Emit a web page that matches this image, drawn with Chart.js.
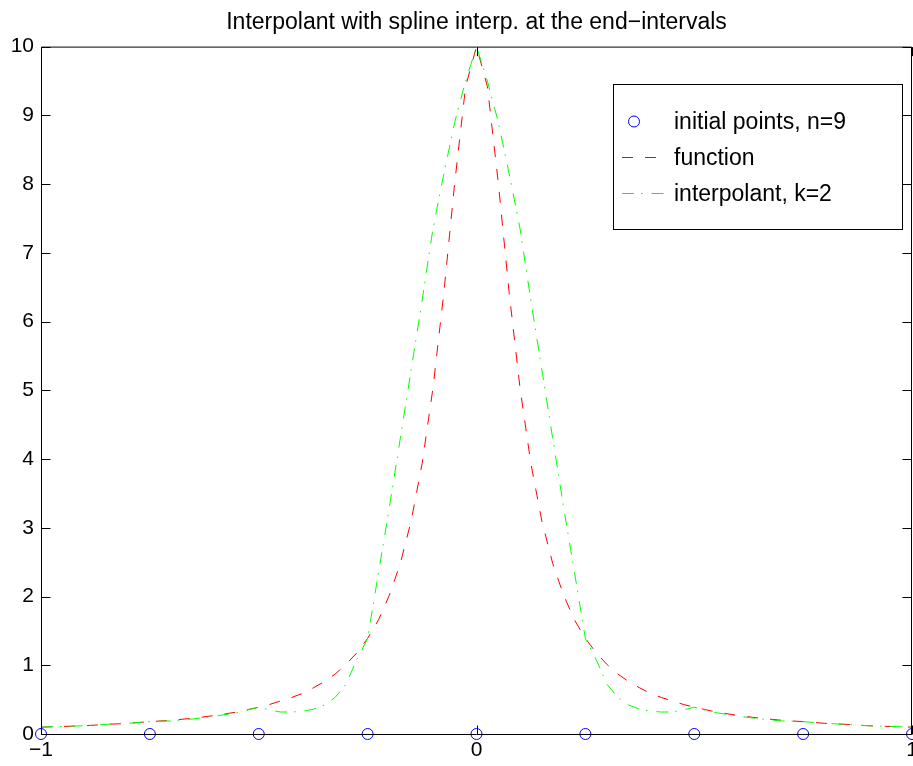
<!DOCTYPE html>
<html>
<head>
<meta charset="utf-8">
<title>Interpolant with spline interp. at the end−intervals</title>
<script src="https://cdn.jsdelivr.net/npm/chart.js@4.4.1/dist/chart.umd.min.js"></script>
<style>
  html, body { margin: 0; padding: 0; background: #fff; }
  #wrap { width: 913px; height: 766px; }
</style>
</head>
<body>
<div id="wrap"><canvas id="interpChart" width="913" height="766"></canvas></div>
<script>
// ============================================
// data
// ============================================

// interpolation nodes (drawn on the x axis)
const NODE_X = [-1, -0.75, -0.5, -0.25, 0, 0.25, 0.5, 0.75, 1];
const NODE_Y = [0, 0, 0, 0, 0, 0, 0, 0, 0];

// x positions where the two curves were read
const CURVE_X = [
  -1, -0.95, -0.9, -0.85, -0.8, -0.75, -0.7, -0.65, -0.6, -0.55,
  -0.5, -0.475, -0.45, -0.425, -0.4, -0.375, -0.35, -0.325, -0.3, -0.275,
  -0.25, -0.225, -0.2, -0.175, -0.15, -0.125, -0.1, -0.075, -0.05, -0.025,
  0,
  0.025, 0.05, 0.075, 0.1, 0.125, 0.15, 0.175, 0.2, 0.225, 0.25,
  0.275, 0.3, 0.325, 0.35, 0.375, 0.4, 0.425, 0.45, 0.475, 0.5,
  0.55, 0.6, 0.65, 0.7, 0.75, 0.8, 0.85, 0.9, 0.95, 1
];

// red dashed "function"
const FUNCTION_Y = [
  0.10, 0.11, 0.12, 0.14, 0.155, 0.18, 0.20, 0.23, 0.27, 0.32,
  0.39, 0.43, 0.48, 0.53, 0.59, 0.67, 0.76, 0.87, 1.01, 1.18,
  1.39, 1.66, 2.02, 2.48, 3.10, 3.93, 5.03, 6.42, 8.02, 9.42,
  10,
  9.42, 8.02, 6.42, 5.03, 3.93, 3.10, 2.48, 2.02, 1.66, 1.39,
  1.18, 1.01, 0.87, 0.76, 0.67, 0.59, 0.53, 0.48, 0.43, 0.39,
  0.32, 0.27, 0.23, 0.20, 0.18, 0.155, 0.14, 0.12, 0.11, 0.10
];

// green dash-dot "interpolant, k=2"
const INTERP_Y = [
  0.10, 0.11, 0.12, 0.14, 0.155, 0.18, 0.19, 0.22, 0.26, 0.31,
  0.39, 0.35, 0.32, 0.32, 0.33, 0.36, 0.42, 0.53, 0.72, 1.08,
  1.39, 2.35, 3.30, 4.30, 5.30, 6.30, 7.35, 8.15, 8.90, 9.50,
  10,
  9.50, 8.90, 8.15, 7.35, 6.30, 5.30, 4.30, 3.30, 2.35, 1.39,
  1.08, 0.72, 0.53, 0.42, 0.36, 0.33, 0.32, 0.32, 0.35, 0.39,
  0.31, 0.26, 0.22, 0.19, 0.18, 0.155, 0.14, 0.12, 0.11, 0.10
];

const X_TICKS = [-1, 0, 1];
const Y_TICKS = [0, 1, 2, 3, 4, 5, 6, 7, 8, 9, 10];

const LABELS = ['initial points, n=9', 'function', 'interpolant, k=2'];

const FONT = '"Liberation Sans", Arial, Helvetica, sans-serif';
Chart.defaults.font.family = FONT;
Chart.defaults.color = '#000';

const fmt = v => (v < 0 ? '\u2212' + Math.abs(v) : String(v));
const pairs = (xs, ys) => xs.map((x, i) => ({ x, y: ys[i] }));

// ============================================
// box + inward ticks, MATLAB style
// ============================================
const matlabFrame = {
  id: 'matlabFrame',
  afterDatasetsDraw(chart) {
    const { ctx, chartArea: a, scales: { x, y } } = chart;
    const L = a.left + 0.5, R = a.right - 0.5, T = a.top + 0.5, B = a.bottom + 0.5;
    const tl = 9;
    ctx.save();
    ctx.strokeStyle = '#000';
    ctx.lineWidth = 1;
    ctx.beginPath();
    ctx.rect(L, T, R - L, B - T);
    x.ticks.forEach(t => {
      const px = Math.round(x.getPixelForValue(t.value)) + 0.5;
      ctx.moveTo(px, B); ctx.lineTo(px, B - tl);
      ctx.moveTo(px, T); ctx.lineTo(px, T + tl);
    });
    y.ticks.forEach(t => {
      const py = Math.round(y.getPixelForValue(t.value)) + 0.5;
      ctx.moveTo(L, py); ctx.lineTo(L + tl, py);
      ctx.moveTo(R, py); ctx.lineTo(R - tl, py);
    });
    ctx.stroke();
    ctx.restore();
  }
};

// ============================================
// boxed legend in the upper right corner
// ============================================
const boxedLegend = {
  id: 'boxedLegend',
  afterDraw(chart) {
    const ctx = chart.ctx;
    const bx = 613.5, by = 84.5, bw = 289, bh = 145;
    const rows = [121.5, 157.5, 193.5];
    ctx.save();
    ctx.fillStyle = '#fff';
    ctx.fillRect(bx, by, bw, bh);
    ctx.strokeStyle = '#000';
    ctx.lineWidth = 1;
    ctx.strokeRect(bx, by, bw, bh);

    chart.data.datasets.forEach((ds, i) => {
      const ry = rows[i];
      ctx.save();
      ctx.strokeStyle = ds.borderColor;
      ctx.lineWidth = 1;
      if (i === 0) {
        ctx.beginPath();
        ctx.arc(634, ry, ds.pointRadius, 0, Math.PI * 2);
        ctx.stroke();
      } else {
        ctx.setLineDash(ds.borderDash);
        ctx.beginPath();
        ctx.moveTo(622, ry);
        ctx.lineTo(i === 1 ? 657 : 665, ry);
        ctx.stroke();
      }
      ctx.restore();
      ctx.fillStyle = '#000';
      ctx.font = '23px ' + FONT;
      ctx.textAlign = 'left';
      ctx.textBaseline = 'alphabetic';
      ctx.fillText(ds.label, 674, ry + 7);
    });
    ctx.restore();
  }
};

new Chart(document.getElementById('interpChart'), {
  type: 'scatter',
  data: {
    datasets: [
      {
        label: LABELS[0],
        data: pairs(NODE_X, NODE_Y),
        showLine: false,
        pointStyle: 'circle',
        pointRadius: 5.5,
        pointBorderWidth: 1,
        borderColor: '#0000ff',
        pointBorderColor: '#0000ff',
        backgroundColor: 'rgba(0,0,0,0)',
        pointBackgroundColor: 'rgba(0,0,0,0)',
        clip: false,
        order: 2
      },
      {
        label: LABELS[1],
        data: pairs(CURVE_X, FUNCTION_Y),
        showLine: true,
        borderColor: '#ff0000',
        borderWidth: 1,
        borderDash: [11, 12],
        pointRadius: 0,
        tension: 0,
        order: 1
      },
      {
        label: LABELS[2],
        data: pairs(CURVE_X, INTERP_Y),
        showLine: true,
        borderColor: '#00ff00',
        borderWidth: 1,
        borderDash: [12, 7, 1.5, 9],
        pointRadius: 0,
        tension: 0,
        order: 0
      }
    ]
  },
  options: {
    responsive: false,
    animation: false,
    devicePixelRatio: 1,
    layout: { padding: { left: 0, right: 1, top: 0, bottom: 0 }, autoPadding: false },
    plugins: {
      legend: { display: false },
      tooltip: { enabled: false },
      title: {
        display: true,
        fullSize: false,
        text: 'Interpolant with spline interp. at the end\u2212intervals',
        color: '#000',
        font: { size: 23, weight: 'normal' },
        padding: { top: 9, bottom: 10 }
      }
    },
    scales: {
      x: {
        type: 'linear',
        min: -1,
        max: 1,
        grid: { display: false, drawTicks: false },
        border: { display: false },
        afterBuildTicks: s => { s.ticks = X_TICKS.map(v => ({ value: v })); },
        afterFit: s => { s.height = 32; s.paddingLeft = 0; s.paddingRight = 0; },
        ticks: {
          padding: 4,
          maxRotation: 0,
          font: { size: 21 },
          callback: v => fmt(v)
        }
      },
      y: {
        type: 'linear',
        min: 0,
        max: 10,
        grid: { display: false, drawTicks: false },
        border: { display: false },
        afterBuildTicks: s => { s.ticks = Y_TICKS.map(v => ({ value: v })); },
        afterFit: s => { s.width = 41; s.paddingTop = 0; s.paddingBottom = 0; },
        ticks: {
          padding: 7,
          font: { size: 21 },
          callback: v => fmt(v)
        }
      }
    }
  },
  plugins: [matlabFrame, boxedLegend]
});
</script>
</body>
</html>
